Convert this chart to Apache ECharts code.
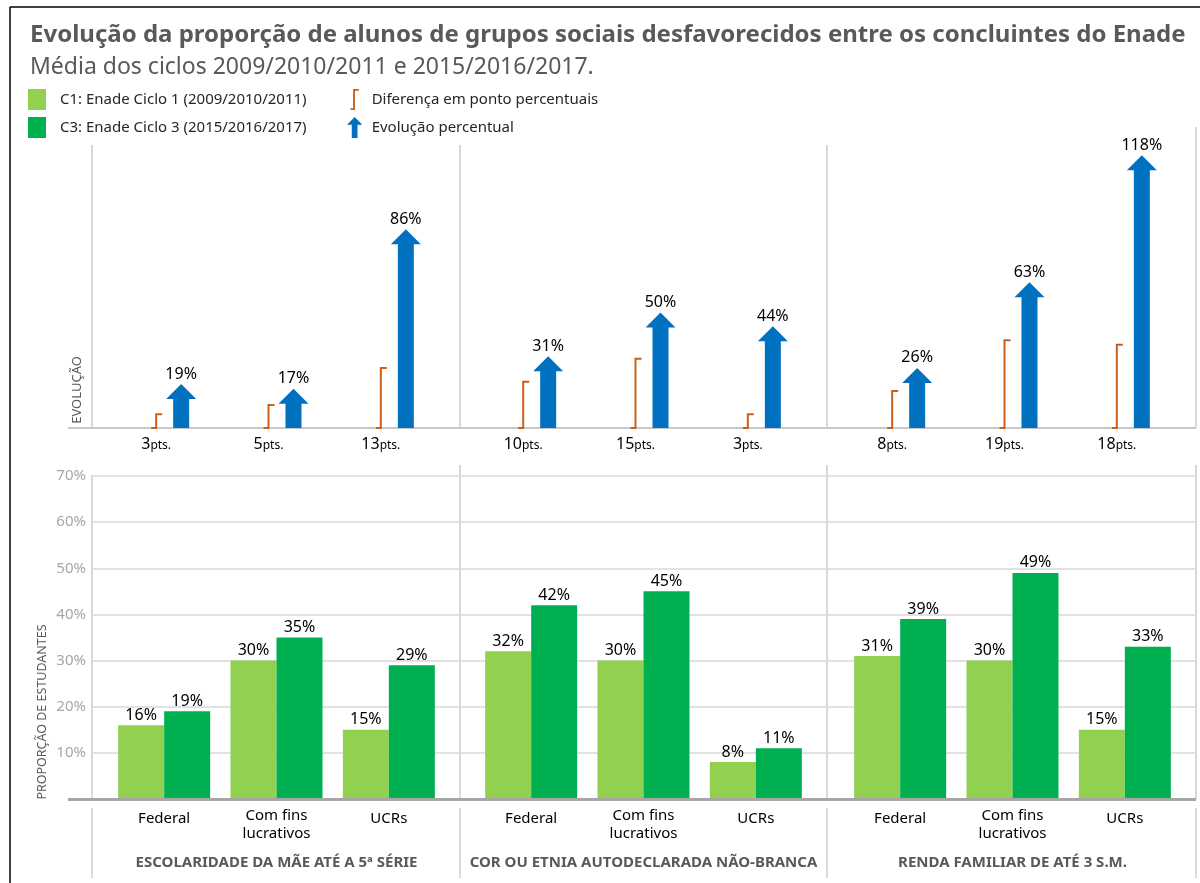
<!DOCTYPE html>
<html>
<head>
<meta charset="utf-8">
<script src="https://cdn.jsdelivr.net/npm/echarts@6/dist/echarts.min.js"></script>
<style>
html,body{margin:0;padding:0;background:#fff;}
#chart{width:1200px;height:883px;}
</style>
</head>
<body>
<div id="chart"></div>
<script>
// ---------- DATA ----------
const categories = ['Federal', 'Com fins\nlucrativos', 'UCRs'];
const groupNames = ['ESCOLARIDADE DA MÃE ATÉ A 5ª SÉRIE', 'COR OU ETNIA AUTODECLARADA NÃO-BRANCA', 'RENDA FAMILIAR DE ATÉ 3 S.M.'];
const seriesC1Name = 'C1: Enade Ciclo 1 (2009/2010/2011)';
const seriesC3Name = 'C3: Enade Ciclo 3 (2015/2016/2017)';
const diffName = 'Diferença em ponto percentuais';
const evolName = 'Evolução percentual';
const c1Values = [[16, 30, 15], [32, 30, 8], [31, 30, 15]];
const c3Values = [[19, 35, 29], [42, 45, 11], [39, 49, 33]];
const diffPts = [[3, 5, 13], [10, 15, 3], [8, 19, 18]];
const evolPct = [[19, 17, 86], [31, 50, 44], [26, 63, 118]];
const yMax = 70, yStep = 10;
const titleText = 'Evolução da proporção de alunos de grupos sociais desfavorecidos entre os concluintes do Enade';
const subtitleText = 'Média dos ciclos 2009/2010/2011 e 2015/2016/2017.';

// ---------- LAYOUT / STYLE ----------
const FONT = 'Noto Sans';
const C_LIGHT = '#92D050', C_DARK = '#00B050', C_BLUE = '#0070C0', C_ORANGE = '#C9601A';
const GREY_TXT = '#595959', LINE = '#d9d9d9';
const groupLeft = [108, 475, 844];
const groupWidth = 337;
const topTop = 139, topHeight = 289;      // baseline at 428
const botTop = 476, botHeight = 323;      // baseline at 799
const evoAxisMax = 125;

const chart = echarts.init(document.getElementById('chart'));

const grid = [], xAxis = [], yAxis = [], series = [];
for (let g = 0; g < 3; g++) {
  grid.push({left: groupLeft[g], top: topTop, width: groupWidth, height: topHeight});
}
grid.push({left: 92, top: botTop, width: 1104, height: botHeight});
for (let g = 0; g < 3; g++) {
  grid.push({left: groupLeft[g], top: botTop, width: groupWidth, height: botHeight});
}

for (let g = 0; g < 3; g++) {
  xAxis.push({type: 'category', gridIndex: g, data: categories, show: false});
}
xAxis.push({type: 'category', gridIndex: 3, data: [''], show: false});
for (let g = 0; g < 3; g++) {
  xAxis.push({
    type: 'category', gridIndex: 4 + g, data: categories,
    axisLine: {show: false}, axisTick: {show: false},
    axisLabel: {
      margin: 8, color: '#000', fontFamily: FONT, fontSize: 15, lineHeight: 18,
      formatter: v => v.indexOf('\n') >= 0 ? v : '{s|' + v + '}',
      rich: {s: {fontFamily: FONT, fontSize: 15, color: '#000', padding: [5, 0, 0, 0]}}
    },
    name: groupNames[g], nameLocation: 'middle', nameGap: 56,
    nameTextStyle: {fontFamily: FONT, fontSize: 15, fontWeight: 'bold', color: GREY_TXT}
  });
}

for (let g = 0; g < 3; g++) yAxis.push({type: 'value', gridIndex: g, min: 0, max: evoAxisMax, show: false});
for (let g = 0; g < 3; g++) yAxis.push({type: 'value', gridIndex: g, min: 0, max: evoAxisMax / 2, show: false});
yAxis.push({
  type: 'value', gridIndex: 3, min: 0, max: yMax, interval: yStep,
  axisLine: {show: true, lineStyle: {color: LINE, width: 2}},
  axisTick: {show: false},
  axisLabel: {color: '#a6a6a6', fontFamily: FONT, fontSize: 15, margin: 6,
    formatter: v => v === 0 ? '' : v + '%'},
  splitLine: {show: true, lineStyle: {color: LINE, width: 1.5}}
});
for (let g = 0; g < 3; g++) yAxis.push({type: 'value', gridIndex: 4 + g, min: 0, max: yMax, show: false});

function arrowRender(params, api) {
  const base = api.coord([api.value(0), 0]);
  const tip = api.coord([api.value(0), api.value(1)]);
  const cx = base[0] + 17, by = base[1], ty = tip[1];
  return {type: 'group', children: [
    {type: 'polygon', shape: {points: [[cx - 8, by], [cx - 8, ty + 15], [cx - 15, ty + 15], [cx, ty], [cx + 15, ty + 15], [cx + 8, ty + 15], [cx + 8, by]]},
     style: {fill: C_BLUE}},
    {type: 'text', x: cx, y: ty - 2,
     style: {text: api.value(1) + '%', fill: '#000', fontFamily: FONT, fontSize: 16, align: 'center', verticalAlign: 'bottom'}}
  ]};
}
function bracketRender(params, api) {
  const base = api.coord([api.value(0), 0]);
  const top = api.coord([api.value(0), api.value(1)]);
  const bx = base[0] - 8, by = base[1], ty = top[1];
  return {type: 'group', children: [
    {type: 'polyline', shape: {points: [[bx - 5, by], [bx, by], [bx, ty], [bx + 6, ty]]},
     style: {stroke: C_ORANGE, lineWidth: 2, fill: null}},
    {type: 'text', x: bx, y: by + 16,
     style: {text: '{a|' + api.value(1) + '}{b|pts.}', align: 'center', verticalAlign: 'middle',
       rich: {a: {fontFamily: FONT, fontSize: 16, color: '#000'}, b: {fontFamily: FONT, fontSize: 12, color: '#000', padding: [3, 0, 0, 0]}}}}
  ]};
}

for (let g = 0; g < 3; g++) {
  series.push({
    name: diffName, type: 'custom', xAxisIndex: g, yAxisIndex: 3 + g,
    itemStyle: {color: C_ORANGE}, renderItem: bracketRender,
    data: diffPts[g].map((v, i) => [i, v])
  });
  series.push({
    name: evolName, type: 'custom', xAxisIndex: g, yAxisIndex: g,
    itemStyle: {color: C_BLUE}, renderItem: arrowRender,
    data: evolPct[g].map((v, i) => [i, v])
  });
  const lbl = {show: true, position: 'top', distance: 2, formatter: '{c}%', color: '#000', fontFamily: FONT, fontSize: 16};
  series.push({
    name: seriesC1Name, type: 'bar', xAxisIndex: 4 + g, yAxisIndex: 7 + g,
    barWidth: 46, barGap: '0%', itemStyle: {color: C_LIGHT}, label: lbl, data: c1Values[g]
  });
  series.push({
    name: seriesC3Name, type: 'bar', xAxisIndex: 4 + g, yAxisIndex: 7 + g,
    barWidth: 46, barGap: '0%', itemStyle: {color: C_DARK}, label: lbl, data: c3Values[g]
  });
}

function vline(x, y1, y2) {
  return {type: 'line', shape: {x1: x, y1: y1, x2: x, y2: y2}, style: {stroke: LINE, lineWidth: 2}, z: 1};
}
const graphic = [
  {type: 'line', shape: {x1: 10, y1: 7, x2: 1200, y2: 7}, style: {stroke: '#000', lineWidth: 1.5}},
  {type: 'line', shape: {x1: 10, y1: 7, x2: 10, y2: 883}, style: {stroke: '#000', lineWidth: 1.5}},
  vline(92, 145, 428), vline(460, 145, 428), vline(827, 145, 428), vline(1196, 127, 428),
  {type: 'line', shape: {x1: 68, y1: 428, x2: 1196, y2: 428}, style: {stroke: '#c8c8c8', lineWidth: 2}, z: 1},
  vline(460, 465, 799), vline(827, 465, 799), vline(1196, 465, 799),
  vline(92, 808, 878), vline(460, 808, 878), vline(827, 808, 878), vline(1196, 808, 878),
  {type: 'line', shape: {x1: 68, y1: 799.5, x2: 1196, y2: 799.5}, style: {stroke: '#a6a6a6', lineWidth: 3}, z: 100},
  {type: 'text', x: 77, y: 390, rotation: Math.PI / 2,
   style: {text: 'EVOLUÇÃO', fill: GREY_TXT, fontFamily: FONT, fontSize: 13, align: 'center', verticalAlign: 'middle'}},
  {type: 'text', x: 42, y: 712, rotation: Math.PI / 2,
   style: {text: 'PROPORÇÃO DE ESTUDANTES', fill: GREY_TXT, fontFamily: FONT, fontSize: 12.5, align: 'center', verticalAlign: 'middle'}}
];

chart.setOption({
  animation: false,
  backgroundColor: '#fff',
  title: {
    text: titleText, subtext: subtitleText, left: 25, top: 18, itemGap: 9,
    textStyle: {fontFamily: FONT, fontSize: 24, fontWeight: 'bold', color: GREY_TXT},
    subtextStyle: {fontFamily: FONT, fontSize: 23, color: GREY_TXT}
  },
  legend: [
    {left: 28, top: 89, orient: 'vertical', itemWidth: 18, itemHeight: 21, itemGap: 7, icon: 'rect', padding: 0,
     data: [seriesC1Name, seriesC3Name],
     textStyle: {fontFamily: FONT, fontSize: 15, color: '#262626', padding: [0, 0, 0, 9]}},
    {left: 347, top: 89, orient: 'vertical', itemWidth: 16, itemHeight: 21, itemGap: 7, padding: 0,
     data: [
       {name: diffName, icon: 'path://M0,18.5 L2.5,18.5 L2.5,0 L8,0 L8,1.8 L4.3,1.8 L4.3,20.3 L0,20.3 Z'},
       {name: evolName, icon: 'path://M8,0 L16,8 L11,8 L11,22 L5,22 L5,8 L0,8 Z'}
     ],
     textStyle: {fontFamily: FONT, fontSize: 15, color: '#262626', padding: [0, 0, 0, 4]}}
  ],
  grid, xAxis, yAxis, series, graphic
});
</script>
</body>
</html>
